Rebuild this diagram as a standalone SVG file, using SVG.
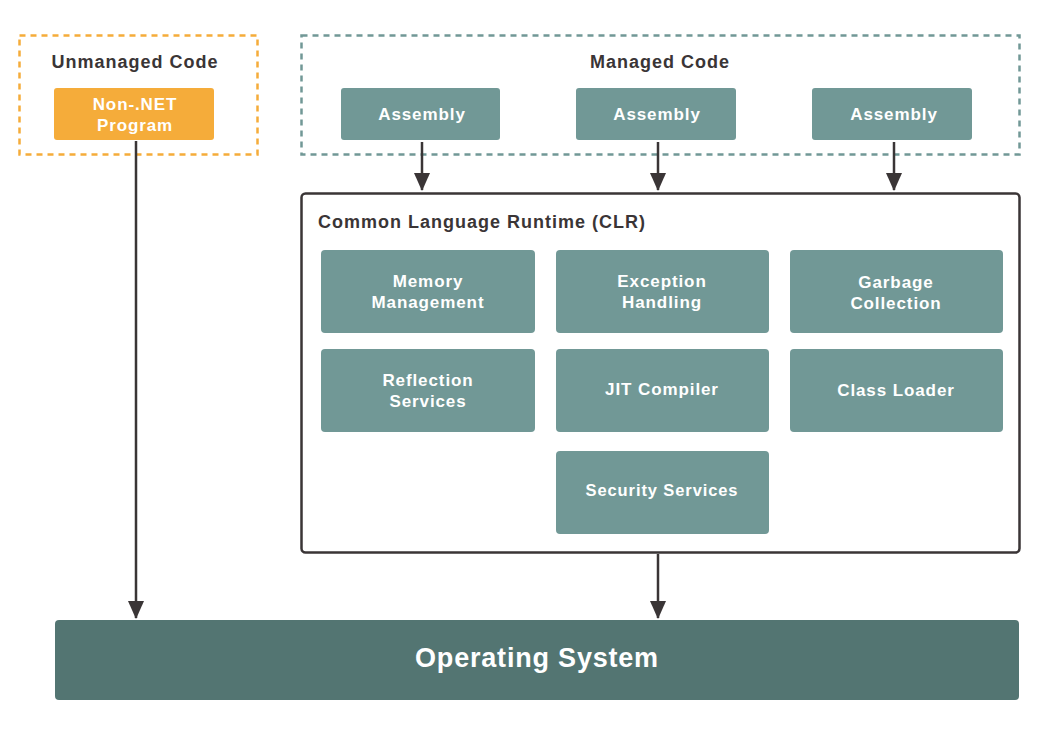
<svg xmlns="http://www.w3.org/2000/svg" width="1050" height="729" viewBox="0 0 1050 729">
<style>
text{font-family:"Liberation Sans",Arial,sans-serif;font-weight:bold}
.w{fill:#ffffff;font-size:17px;text-anchor:middle;letter-spacing:0.9px}
.d{fill:#3a3536;font-size:18px;letter-spacing:1px}
.box{fill:#719896}
.conn{stroke:#3a3536;stroke-width:2.5;fill:none;marker-end:url(#ah)}
</style>
<defs>
<marker id="ah" markerWidth="18" markerHeight="16" refX="17" refY="8" orient="auto" markerUnits="userSpaceOnUse" viewBox="0 0 18 16">
<path d="M0,0 L18,8 L0,16 Z" fill="#3a3536"/>
</marker>
</defs>
<rect width="1050" height="729" fill="#ffffff"/>
<g id="unmanaged">
<rect x="19.5" y="35.5" width="238" height="119" fill="none" stroke="#F5AC3A" stroke-width="2.5" stroke-dasharray="6,5"/>
<text class="d" x="135" y="68" text-anchor="middle">Unmanaged Code</text>
</g>
<g id="nonnet">
<rect x="54" y="88" width="160" height="52" rx="3" fill="#F5AC3A"/>
<text class="w" x="135" y="110">Non-.NET</text>
<text class="w" x="135" y="131">Program</text>
</g>
<g id="managed">
<rect x="301.5" y="35.5" width="718" height="119" fill="none" stroke="#719896" stroke-width="2.5" stroke-dasharray="6,5"/>
<text class="d" x="660" y="68" text-anchor="middle">Managed Code</text>
</g>
<g id="assembly1"><rect class="box" x="341" y="88" width="159" height="52" rx="3"/><text class="w" x="422" y="120">Assembly</text></g>
<g id="assembly2"><rect class="box" x="576" y="88" width="160" height="52" rx="3"/><text class="w" x="657" y="120">Assembly</text></g>
<g id="assembly3"><rect class="box" x="812" y="88" width="160" height="52" rx="3"/><text class="w" x="894" y="120">Assembly</text></g>
<g id="clr">
<rect x="301.5" y="193.5" width="718" height="359" rx="4" fill="#ffffff" stroke="#3a3536" stroke-width="2.5"/>
<text class="d" x="318" y="228">Common Language Runtime (CLR)</text>
</g>
<g id="memory"><rect class="box" x="321" y="250" width="214" height="83" rx="4"/><text class="w" x="428" y="287">Memory</text><text class="w" x="428" y="308">Management</text></g>
<g id="exception"><rect class="box" x="556" y="250" width="213" height="83" rx="4"/><text class="w" x="662" y="287">Exception</text><text class="w" x="662" y="308">Handling</text></g>
<g id="garbage"><rect class="box" x="790" y="250" width="213" height="83" rx="4"/><text class="w" x="896" y="288">Garbage</text><text class="w" x="896" y="309">Collection</text></g>
<g id="reflection"><rect class="box" x="321" y="349" width="214" height="83" rx="4"/><text class="w" x="428" y="386">Reflection</text><text class="w" x="428" y="407">Services</text></g>
<g id="jit"><rect class="box" x="556" y="349" width="213" height="83" rx="4"/><text class="w" x="662" y="395">JIT Compiler</text></g>
<g id="classloader"><rect class="box" x="790" y="349" width="213" height="83" rx="4"/><text class="w" x="896" y="396">Class Loader</text></g>
<g id="security"><rect class="box" x="556" y="451" width="213" height="83" rx="4"/><text class="w" x="662" y="496" style="font-size:16.5px">Security Services</text></g>
<g id="os">
<rect x="55" y="620" width="964" height="80" rx="4" fill="#537572"/>
<text x="537" y="667" text-anchor="middle" style="fill:#ffffff;font-size:27px;letter-spacing:0.8px">Operating System</text>
</g>
<g id="connectors">
<line class="conn" x1="422" y1="142" x2="422" y2="190"/>
<line class="conn" x1="658" y1="142" x2="658" y2="190"/>
<line class="conn" x1="894" y1="142" x2="894" y2="190"/>
<line class="conn" x1="136" y1="141" x2="136" y2="618"/>
<line class="conn" x1="658" y1="554" x2="658" y2="618"/>
</g>
</svg>
